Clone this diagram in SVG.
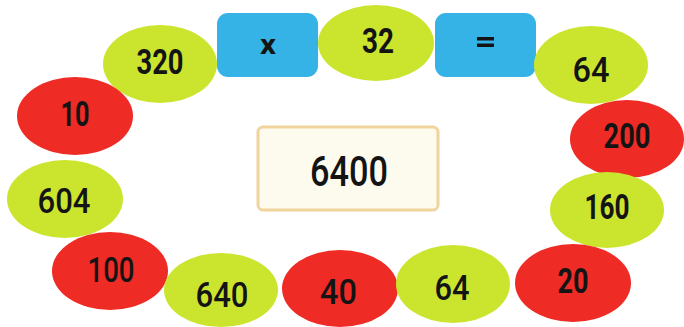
<svg xmlns="http://www.w3.org/2000/svg" width="684" height="327" viewBox="0 0 684 327">
<style>
.g{fill:#cbe52f}
.r{fill:#ee2b25}
.b{fill:#35b3e6}
text{font-family:Roboto,"Liberation Sans",sans-serif;fill:#141414;text-anchor:middle}
.n{font-size:35px;font-weight:500}
.nb{font-size:35px;font-weight:700}
</style>
<rect width="684" height="327" fill="#ffffff"/>
<g id="connectors"></g>
<g id="node-320"><ellipse class="g" cx="160" cy="64" rx="57" ry="39"/><text class="nb" x="160" y="74" textLength="47" lengthAdjust="spacingAndGlyphs">320</text></g>
<g id="node-x"><rect class="b" x="217" y="13" width="101" height="64" rx="11"/><text x="268" y="54" style="font-size:27px;font-weight:700" textLength="16" lengthAdjust="spacingAndGlyphs">x</text></g>
<g id="node-32"><ellipse class="g" cx="376" cy="43" rx="58" ry="38"/><text class="nb" x="378" y="53" textLength="32" lengthAdjust="spacingAndGlyphs">32</text></g>
<g id="node-eq"><rect class="b" x="435" y="13" width="101" height="64" rx="11"/><rect x="477" y="37" width="17" height="3.5" fill="#141414"/><rect x="477" y="43.5" width="17" height="3.5" fill="#141414"/></g>
<g id="node-64a"><ellipse class="g" cx="591" cy="65" rx="57" ry="39"/><text class="n" x="591" y="82" textLength="37" lengthAdjust="spacingAndGlyphs">64</text></g>
<g id="node-10"><ellipse class="r" cx="75" cy="116" rx="58" ry="39"/><text class="nb" x="75" y="126" textLength="29" lengthAdjust="spacingAndGlyphs">10</text></g>
<g id="node-200"><ellipse class="r" cx="627" cy="139" rx="57" ry="39"/><text class="nb" x="627" y="148" textLength="47" lengthAdjust="spacingAndGlyphs">200</text></g>
<g id="node-604"><ellipse class="g" cx="65" cy="199" rx="58" ry="39"/><text class="n" x="64" y="213" textLength="53" lengthAdjust="spacingAndGlyphs">604</text></g>
<g id="node-160"><ellipse class="g" cx="607" cy="210" rx="57" ry="38"/><text class="nb" x="607" y="219" textLength="45" lengthAdjust="spacingAndGlyphs">160</text></g>
<g id="node-100"><ellipse class="r" cx="110" cy="271" rx="58" ry="39"/><text class="n" x="111" y="282" textLength="47" lengthAdjust="spacingAndGlyphs">100</text></g>
<g id="node-640"><ellipse class="g" cx="221" cy="290" rx="57" ry="37"/><text class="n" x="222" y="307" textLength="53" lengthAdjust="spacingAndGlyphs">640</text></g>
<g id="node-40"><ellipse class="r" cx="340" cy="288.5" rx="58" ry="38.5"/><text class="n" x="338.5" y="304" textLength="37" lengthAdjust="spacingAndGlyphs">40</text></g>
<g id="node-64b"><ellipse class="g" cx="453" cy="284" rx="57" ry="39"/><text class="n" x="452" y="300" textLength="35" lengthAdjust="spacingAndGlyphs">64</text></g>
<g id="node-20"><ellipse class="r" cx="573" cy="283" rx="58" ry="39"/><text class="nb" x="573" y="293" textLength="31" lengthAdjust="spacingAndGlyphs">20</text></g>
<g id="node-6400"><rect x="258" y="127" width="180" height="83" rx="5" fill="#fdfbee" stroke="#f0d49c" stroke-width="3"/><text x="349" y="186" style="font-size:42px;font-weight:500" textLength="78" lengthAdjust="spacingAndGlyphs">6400</text></g>
</svg>
